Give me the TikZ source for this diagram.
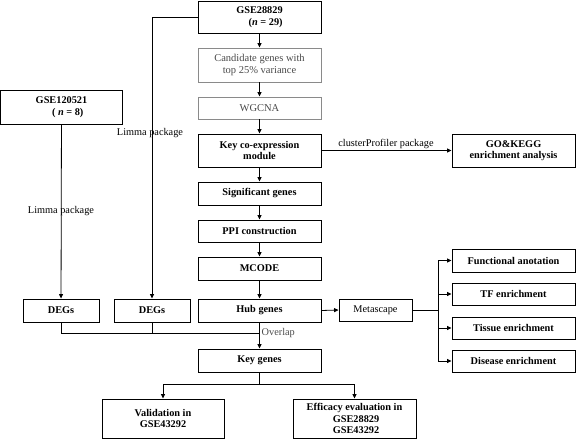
\documentclass[tikz,border=0pt]{standalone}
\usepackage{fontspec}
\setmainfont{Liberation Serif}
\usetikzlibrary{arrows.meta}
\definecolor{txtgray}{HTML}{4A4A4A}
\definecolor{boxgray}{HTML}{8A8A8A}
\begin{document}
\begin{tikzpicture}[x=1pt,y=-1pt,
  box/.style={draw=black,line width=0.9pt,rectangle,align=center,inner sep=1pt,
    font=\fontsize{10.3}{11.5}\selectfont\bfseries},
  lbox/.style={box,draw=boxgray,text=txtgray,font=\fontsize{10.5}{12}\selectfont},
  conn/.style={line width=0.8pt,draw=black},
  arr/.style={conn,-{Triangle[length=4.5pt,width=4pt]}},
  lab/.style={font=\fontsize{10.3}{12}\selectfont,inner sep=0pt}]
\useasboundingbox (0,0) rectangle (576,439);
% main column
\node[box,minimum width=123,minimum height=32] (g28) at (259.5,17) {GSE28829\\\hspace*{1.2em}(\textit{n} = 29)};
\node[lbox,minimum width=123,minimum height=34] (cand) at (259.5,65) {Candidate genes with\\top 25\% variance};
\node[lbox,minimum width=123,minimum height=22] (wg) at (259.5,108) {WGCNA};
\node[box,minimum width=123,minimum height=33] (key) at (259.5,150.5) {Key co-expression\\module};
\node[box,minimum width=123,minimum height=23] (sig) at (259.5,193.5) {Significant genes};
\node[box,minimum width=123,minimum height=22] (ppi) at (259.5,231) {PPI construction};
\node[box,minimum width=123,minimum height=23] (mc) at (259.5,268.5) {MCODE};
\node[box,minimum width=123,minimum height=23] (hub) at (259.5,310.5) {Hub genes};
\node[box,minimum width=123,minimum height=23] (kg) at (259.5,360.5) {Key genes};
% left
\node[box,minimum width=122,minimum height=34] (g12) at (61.5,107) {GSE120521\\\hspace*{1.2em}( \textit{n} = 8)};
\node[box,minimum width=76,minimum height=23] (d1) at (61,310.5) {DEGs};
\node[box,minimum width=76,minimum height=23] (d2) at (152,310.5) {DEGs};
% right
\node[box,minimum width=123,minimum height=33] (go) at (513.5,150.5) {GO\&KEGG\\enrichment analysis};
\node[box,minimum width=73,minimum height=22,font=\fontsize{10.3}{12}\selectfont] (meta) at (375.5,310) {Metascape};
\node[box,minimum width=123,minimum height=23] (fa) at (513.5,260.5) {Functional anotation};
\node[box,minimum width=123,minimum height=22] (tf) at (513.5,294) {TF enrichment};
\node[box,minimum width=123,minimum height=22] (ti) at (513.5,328) {Tissue enrichment};
\node[box,minimum width=123,minimum height=22] (di) at (513.5,361) {Disease enrichment};
% bottom
\node[box,minimum width=122,minimum height=39] (va) at (163,418.5) {Validation in\\GSE43292};
\node[box,minimum width=123,minimum height=39] (ef) at (354.5,418.5) {Efficacy evaluation in\\\hspace*{0.3em}GSE28829\\\hspace*{0.3em}GSE43292};
% main arrows
\draw[arr] (g28) -- (cand);
\draw[arr] (cand) -- (wg);
\draw[arr] (wg) -- (key);
\draw[arr] (key) -- (sig);
\draw[arr] (sig) -- (ppi);
\draw[arr] (ppi) -- (mc);
\draw[arr] (mc) -- (hub);
\draw[arr] (hub) -- (kg);
% limma
\draw[arr] (g12) -- (d1);
\node[lab] (lim1) at (61,211) {Limma package};
\draw[arr] (g28.west) -| (d2.north);
\node[lab] (lim2) at (150,133) {Limma package};
% overlap
\coordinate (ov) at (259.5,333);
\draw[conn] (d1.south) |- (ov);
\draw[conn] (d2.south) -- (d2.south |- ov);
\node[lab,anchor=west,text=txtgray] (ovl) at (261.5,333.5) {Overlap};
% cluster profiler
\draw[arr] (key.east) -- (go.west);
\node[lab] (cp) at (386,144) {clusterProfiler package};
% metascape
\draw[arr] (hub.east) -- (meta.west);
\coordinate (br) at (438,310);
\draw[conn] (meta.east) -- (br);
\draw[conn] (br |- fa.west) -- (br |- di.west);
\draw[arr] (br |- fa.west) -- (fa.west);
\draw[arr] (br |- tf.west) -- (tf.west);
\draw[arr] (br |- ti.west) -- (ti.west);
\draw[arr] (br |- di.west) -- (di.west);
% bottom split
\coordinate (sp) at (259.5,384);
\draw[conn] (kg.south) -- (sp);
\draw[arr] (sp) -| (va.north);
\draw[arr] (sp) -| (ef.north);
\end{tikzpicture}
\end{document}
